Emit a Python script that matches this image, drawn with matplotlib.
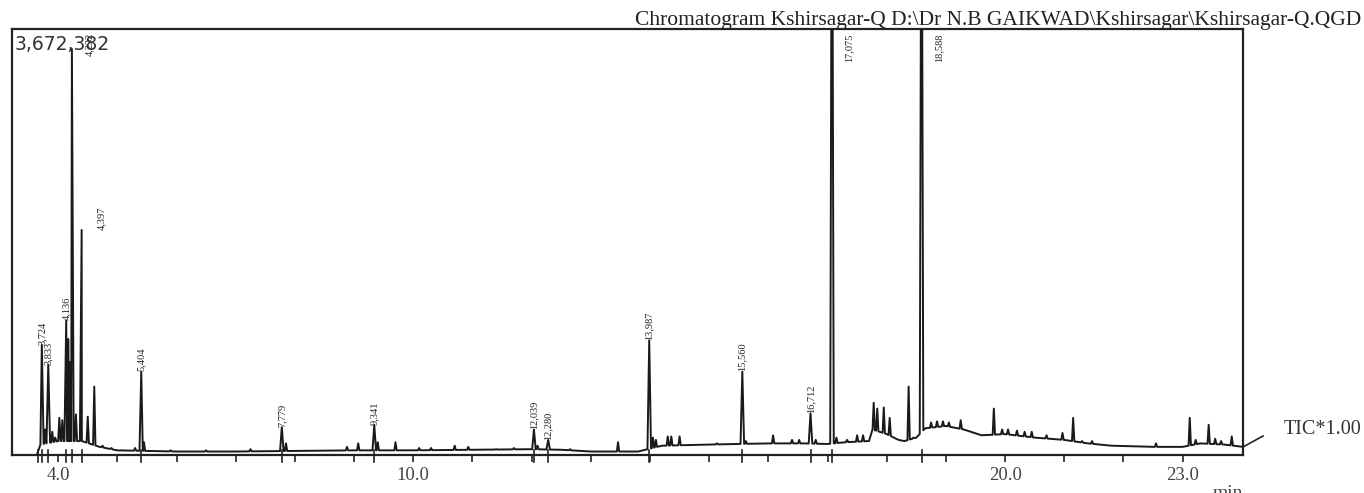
import numpy as np
import matplotlib
matplotlib.use("Agg")
import matplotlib.pyplot as plt
import matplotlib.transforms as mtransforms

# --- data (time in min, intensity in counts) ---
y_max = 3672382

baseline_t = [3.22, 3.64, 3.70, 4.00, 4.40, 4.70, 5.00, 5.50, 6.00, 7.00, 8.00, 9.00,
              10.0, 11.0, 12.0, 12.5, 13.0, 13.8, 14.2, 15.0, 16.0, 16.6, 17.0, 17.3,
              17.70, 17.76, 18.0, 18.2, 18.3, 18.5, 18.65, 19.0, 19.3, 19.6, 20.0, 20.5,
              21.0, 21.4, 21.8, 22.5, 23.0, 23.3, 23.7, 24.02]
baseline_v = [0, 0, 90000, 120000, 120000, 70000, 40000, 35000, 30000, 30000, 35000, 40000,
              40000, 45000, 50000, 45000, 30000, 30000, 80000, 90000, 100000, 100000, 95000, 110000,
              120000, 220000, 180000, 130000, 120000, 150000, 230000, 250000, 220000, 170000, 180000, 150000,
              130000, 100000, 80000, 70000, 70000, 100000, 90000, 70000]

peak_rt = [3.724, 3.833, 4.136, 4.232, 4.397, 5.404, 7.779, 9.341, 12.039, 12.280,
           13.987, 15.560, 16.712, 17.075, 18.588]
peak_height = [950000, 780000, 1160000, 3500000, 1940000, 720000, 240000, 260000, 220000, 130000,
               990000, 720000, 360000, 6000000, 6000000]
peak_label = ["3,724", "3,833", "4,136", "4,232", "4,397", "5,404", "7,779", "9,341", "12,039", "12,280",
              "13,987", "15,560", "16,712", "17,075", "18,588"]

other_rt = [3.78, 3.90, 3.95, 4.02, 4.07, 4.17, 4.20, 4.30, 4.50, 4.61, 4.75, 4.90, 5.30, 5.45,
            5.90, 6.50, 7.25, 7.85, 8.88, 9.07, 9.40, 9.70, 10.1, 10.3, 10.7, 10.93, 11.4,
            11.7, 12.1, 12.65, 13.46, 14.05, 14.10, 14.30, 14.36, 14.50, 15.13, 15.62, 16.08,
            16.40, 16.52, 16.80, 17.15, 17.33, 17.50, 17.60, 17.78, 17.84, 17.95, 18.05, 18.37,
            18.45, 18.75, 18.85, 18.95, 19.05, 19.25, 19.81, 19.95, 20.05, 20.20, 20.33, 20.45,
            20.70, 20.97, 21.15, 21.30, 21.47, 22.55, 23.12, 23.22, 23.44, 23.55, 23.65, 23.83]
other_height = [220000, 200000, 150000, 320000, 300000, 1000000, 800000, 350000, 330000, 590000,
                80000, 60000, 60000, 110000, 40000, 40000, 50000, 100000, 70000, 100000, 110000,
                110000, 60000, 60000, 80000, 70000, 50000, 60000, 80000, 50000, 110000, 150000,
                130000, 160000, 160000, 160000, 100000, 120000, 170000, 130000, 130000, 130000,
                150000, 130000, 170000, 170000, 450000, 400000, 410000, 320000, 590000, 150000,
                280000, 290000, 290000, 280000, 300000, 400000, 220000, 220000, 210000, 200000,
                200000, 170000, 190000, 320000, 120000, 120000, 100000, 320000, 130000, 260000,
                140000, 120000, 160000]

# --- build the trace: baseline knots plus a narrow spike per peak ---
pts = list(zip(baseline_t, baseline_v))
for rt, h, w in ([(r, v, 0.03) for r, v in zip(peak_rt, peak_height)]
                 + [(r, v, 0.02) for r, v in zip(other_rt, other_height)]):
    pts.append((rt - w, np.interp(rt - w, baseline_t, baseline_v)))
    pts.append((rt, h))
    pts.append((rt + w, np.interp(rt + w, baseline_t, baseline_v)))
pts.sort()
trace_t = [p[0] for p in pts]
trace_v = [p[1] for p in pts]

fig = plt.figure(figsize=(13.64, 4.93), dpi=100)
ax = fig.add_axes([0.0088, 0.0771, 0.9025, 0.8641])
ax.plot(trace_t, trace_v, color="#1a1a1a", lw=1.4)
ax.set_xlim(3.22, 24.02)
ax.set_ylim(0, y_max)

for s in ax.spines.values():
    s.set_linewidth(1.6)
    s.set_color("#222222")

ax.set_yticks([])
ax.set_xticks(range(4, 24))
ax.set_xticklabels(["4.0" if t == 4 else "10.0" if t == 10 else "20.0" if t == 20
                    else "23.0" if t == 23 else "" for t in range(4, 24)],
                   family="Liberation Serif", fontsize=13.5, color="#444444")
ax.tick_params(axis="x", direction="out", length=5, width=1.2, pad=4, color="#222222")

# peak start markers crossing the axis
trans = mtransforms.blended_transform_factory(ax.transData, ax.transAxes)
for rt in [3.66] + peak_rt:
    ax.plot([rt, rt], [-0.016, 0.012], color="#222222", lw=1.2, transform=trans, clip_on=False)

# peak labels
shift = {"4,232": 0.30, "4,397": 0.34, "17,075": 0.29, "18,588": 0.29}
for rt, h, lab in zip(peak_rt, peak_height, peak_label):
    if h > y_max or lab == "4,232":
        ax.text(rt + shift.get(lab, 0), y_max * 0.99, lab, rotation=90, ha="center", va="top",
                family="Liberation Serif", fontsize=7.5, color="#222222")
    else:
        ax.text(rt + shift.get(lab, 0), h, lab, rotation=90, ha="center", va="bottom",
                family="Liberation Serif", fontsize=7.5, color="#222222")

ax.text(0.002, 0.985, "3,672,382", transform=ax.transAxes, ha="left", va="top",
        family="DejaVu Sans", fontsize=13.5, color="#333333")

fig.text(0.998, 1 - 25 / 493, "Chromatogram Kshirsagar-Q D:\\Dr N.B GAIKWAD\\Kshirsagar\\Kshirsagar-Q.QGD",
         ha="right", va="baseline", family="Liberation Serif", fontsize=15.5, color="#222222")
fig.text(0.9113, 0.016, "min", ha="right", va="top", family="Liberation Serif",
         fontsize=14, color="#444444")
fig.text(0.998, 1 - 430 / 493, "TIC*1.00", ha="right", va="center",
         family="Liberation Serif", fontsize=14.5, color="#333333")
fig.add_artist(plt.Line2D([1243 / 1364, 1263 / 1364], [1 - 447 / 493, 1 - 436 / 493],
                          color="#222222", lw=1.2))

fig.savefig("out.png", dpi=100)
